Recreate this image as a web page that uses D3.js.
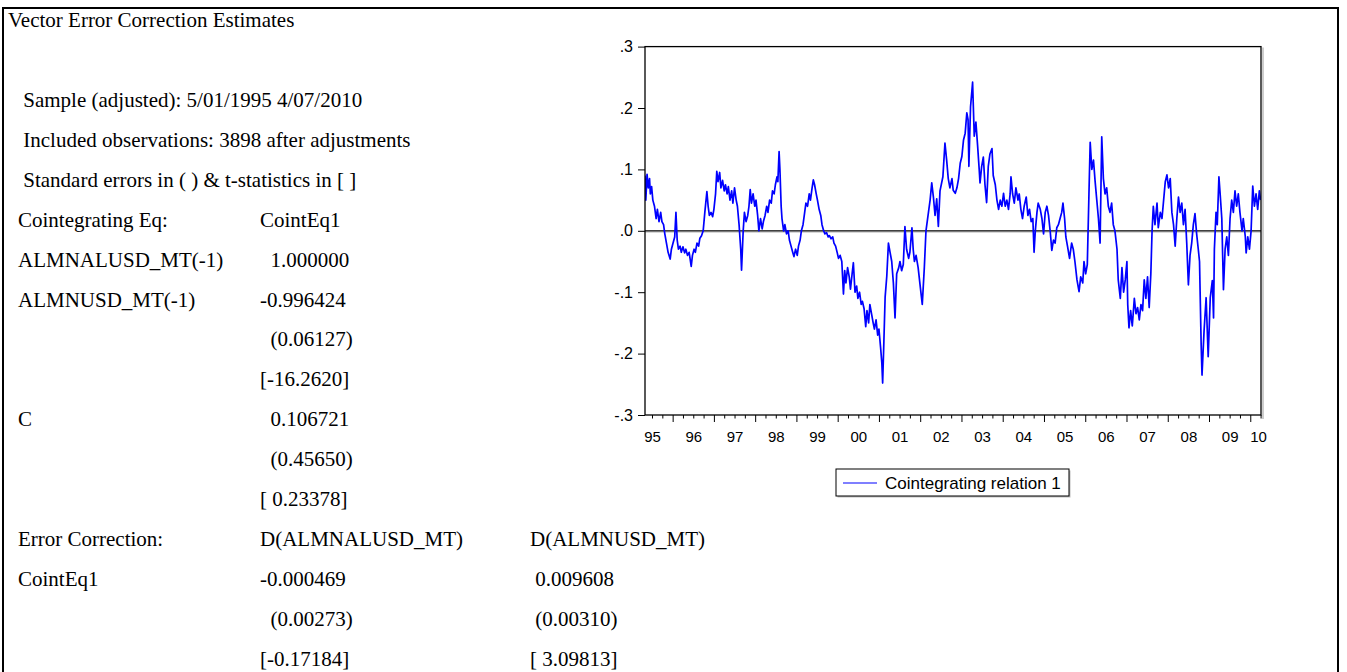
<!DOCTYPE html>
<html>
<head>
<meta charset="utf-8">
<title>Vector Error Correction Estimates</title>
<script src="https://cdn.jsdelivr.net/npm/d3@7"></script>
<style>
  body { margin: 0; background: #fff; }
  svg { display: block; }
  .vec-table text { font-family: "Liberation Serif", "Times New Roman", serif; font-size: 21px; fill: #000; white-space: pre; }
  .vec-chart text { font-family: "Liberation Sans", Arial, sans-serif; fill: #000; }
  .vec-chart .domain { display: none; }
</style>
</head>
<body>
<div class="vec-report"></div>
<script>

// ---- table text (EViews output) ----
var tableTitle = "Vector Error Correction Estimates";
var sampleNotes = [
  " Sample (adjusted): 5/01/1995 4/07/2010",
  " Included observations: 3898 after adjustments",
  " Standard errors in ( ) & t-statistics in [ ]"
];
var cointRows = [
  ["Cointegrating Eq:", "CointEq1"],
  ["ALMNALUSD_MT(-1)", "  1.000000"],
  ["ALMNUSD_MT(-1)", "-0.996424"],
  ["", "  (0.06127)"],
  ["", "[-16.2620]"],
  ["C", "  0.106721"],
  ["", "  (0.45650)"],
  ["", "[ 0.23378]"]
];
var ecmRows = [
  ["Error Correction:", "D(ALMNALUSD_MT)", "D(ALMNUSD_MT)"],
  ["CointEq1", "-0.000469", " 0.009608"],
  ["", "  (0.00273)", " (0.00310)"],
  ["", "[-0.17184]", "[ 3.09813]"]
];

// ---- cointegrating relation 1 ----
var relDates = [
  1995.33,1995.35,1995.38,1995.41,1995.44,1995.46,1995.49,1995.52,1995.56,1995.60,
  1995.63,1995.67,1995.71,1995.74,1995.78,1995.81,1995.85,1995.89,1995.94,1995.97,
  1996.01,1996.05,1996.08,1996.11,1996.14,1996.18,1996.21,1996.25,1996.29,1996.32,
  1996.36,1996.40,1996.45,1996.48,1996.52,1996.55,1996.59,1996.63,1996.66,1996.70,
  1996.74,1996.78,1996.83,1996.86,1996.89,1996.93,1996.97,1997.00,1997.04,1997.07,
  1997.10,1997.14,1997.17,1997.21,1997.25,1997.28,1997.32,1997.35,1997.39,1997.43,
  1997.46,1997.50,1997.54,1997.57,1997.61,1997.65,1997.67,1997.71,1997.74,1997.78,
  1997.82,1997.85,1997.88,1997.91,1997.95,1997.99,1998.02,1998.06,1998.09,1998.13,
  1998.17,1998.20,1998.24,1998.28,1998.31,1998.35,1998.39,1998.42,1998.46,1998.49,
  1998.53,1998.55,1998.58,1998.60,1998.63,1998.65,1998.69,1998.72,1998.76,1998.80,
  1998.83,1998.87,1998.91,1998.94,1998.98,1999.02,1999.05,1999.09,1999.12,1999.16,
  1999.20,1999.23,1999.27,1999.31,1999.34,1999.38,1999.41,1999.44,1999.48,1999.51,
  1999.55,1999.59,1999.62,1999.66,1999.69,1999.73,1999.77,1999.80,1999.84,1999.88,
  1999.91,1999.95,1999.99,2000.02,2000.06,2000.10,2000.14,2000.17,2000.20,2000.24,
  2000.28,2000.31,2000.35,2000.38,2000.42,2000.46,2000.49,2000.53,2000.57,2000.60,
  2000.64,2000.68,2000.71,2000.75,2000.78,2000.82,2000.86,2000.89,2000.93,2000.97,
  2001.00,2001.04,2001.07,2001.09,2001.12,2001.15,2001.19,2001.23,2001.27,2001.31,
  2001.35,2001.39,2001.43,2001.48,2001.51,2001.55,2001.59,2001.63,2001.67,2001.72,
  2001.75,2001.80,2001.83,2001.86,2001.90,2001.95,2002.00,2002.05,2002.10,2002.14,
  2002.20,2002.24,2002.28,2002.32,2002.36,2002.40,2002.44,2002.48,2002.55,2002.60,
  2002.64,2002.68,2002.72,2002.77,2002.80,2002.85,2002.89,2002.93,2002.97,2003.01,
  2003.05,2003.09,2003.13,2003.16,2003.18,2003.22,2003.27,2003.31,2003.35,2003.39,
  2003.43,2003.45,2003.49,2003.53,2003.57,2003.61,2003.65,2003.69,2003.74,2003.77,
  2003.82,2003.86,2003.90,2003.94,2003.98,2004.02,2004.06,2004.10,2004.14,2004.18,
  2004.20,2004.24,2004.28,2004.32,2004.37,2004.40,2004.44,2004.48,2004.52,2004.57,
  2004.61,2004.65,2004.69,2004.73,2004.76,2004.79,2004.83,2004.86,2004.91,2004.95,
  2004.99,2005.03,2005.07,2005.11,2005.15,2005.19,2005.23,2005.27,2005.31,2005.35,
  2005.39,2005.43,2005.46,2005.50,2005.53,2005.57,2005.62,2005.67,2005.71,2005.75,
  2005.80,2005.85,2005.89,2005.94,2005.97,2006.01,2006.05,2006.09,2006.12,2006.16,
  2006.20,2006.24,2006.28,2006.32,2006.36,2006.40,2006.44,2006.48,2006.52,2006.56,
  2006.60,2006.64,2006.68,2006.72,2006.77,2006.80,2006.85,2006.89,2006.93,2006.97,
  2007.01,2007.03,2007.06,2007.10,2007.14,2007.19,2007.23,2007.27,2007.31,2007.35,
  2007.39,2007.43,2007.47,2007.51,2007.55,2007.59,2007.62,2007.65,2007.69,2007.74,
  2007.77,2007.82,2007.86,2007.90,2007.94,2007.98,2008.02,2008.06,2008.10,2008.14,
  2008.18,2008.22,2008.26,2008.30,2008.34,2008.38,2008.42,2008.46,2008.50,2008.54,
  2008.58,2008.62,2008.66,2008.70,2008.74,2008.77,2008.81,2008.83,2008.88,2008.93,
  2008.98,2009.03,2009.08,2009.11,2009.13,2009.17,2009.20,2009.24,2009.27,2009.31,
  2009.35,2009.39,2009.43,2009.47,2009.51,2009.55,2009.59,2009.63,2009.67,2009.71,
  2009.75,2009.80,2009.83,2009.88,2009.90,2009.94,2009.98,2010.02,2010.06,2010.10,
  2010.14,2010.18,2010.22,2010.25
];
var relValues = [
  0.090,0.050,0.092,0.070,0.085,0.060,0.072,0.050,0.040,0.020,
  0.035,0.015,0.030,0.015,0.010,-0.005,-0.020,-0.035,-0.046,-0.030,
  -0.020,-0.010,0.030,-0.015,-0.030,-0.025,-0.035,-0.026,-0.036,-0.030,
  -0.040,-0.035,-0.058,-0.040,-0.030,-0.035,-0.020,-0.025,-0.012,-0.008,
  0.000,0.030,0.064,0.040,0.025,0.030,0.023,0.035,0.060,0.097,
  0.080,0.095,0.070,0.082,0.065,0.075,0.060,0.072,0.050,0.065,
  0.045,0.070,0.050,0.040,0.010,-0.030,-0.064,0.000,0.030,0.015,
  0.025,0.040,0.067,0.045,0.060,0.040,0.050,0.025,0.000,0.020,
  0.003,0.015,0.025,0.040,0.030,0.050,0.045,0.065,0.060,0.075,
  0.088,0.080,0.129,0.100,0.040,0.020,0.000,0.010,-0.005,0.000,
  -0.015,-0.025,-0.035,-0.042,-0.030,-0.040,-0.025,-0.015,0.000,0.010,
  0.030,0.045,0.040,0.060,0.050,0.070,0.083,0.075,0.060,0.050,
  0.035,0.025,0.010,0.000,-0.005,-0.003,-0.010,-0.008,-0.013,-0.010,
  -0.020,-0.025,-0.036,-0.045,-0.040,-0.050,-0.103,-0.065,-0.085,-0.060,
  -0.075,-0.095,-0.070,-0.052,-0.100,-0.090,-0.110,-0.100,-0.120,-0.115,
  -0.127,-0.156,-0.130,-0.150,-0.120,-0.135,-0.150,-0.160,-0.145,-0.170,
  -0.160,-0.190,-0.215,-0.248,-0.180,-0.108,-0.074,-0.020,-0.035,-0.050,
  -0.085,-0.142,-0.070,-0.060,-0.050,-0.065,-0.055,0.007,-0.030,-0.045,
  -0.035,0.005,-0.030,-0.050,-0.040,-0.060,-0.090,-0.120,-0.060,0.000,
  0.030,0.050,0.078,0.055,0.025,0.052,0.007,0.065,0.088,0.143,
  0.116,0.085,0.070,0.085,0.066,0.061,0.070,0.085,0.110,0.121,
  0.148,0.159,0.192,0.181,0.105,0.202,0.242,0.154,0.177,0.140,
  0.100,0.078,0.105,0.120,0.075,0.046,0.105,0.125,0.134,0.090,
  0.075,0.050,0.035,0.050,0.040,0.061,0.040,0.050,0.035,0.060,
  0.088,0.060,0.045,0.070,0.050,0.060,0.035,0.020,0.040,0.055,
  0.025,0.035,0.015,0.020,-0.035,0.000,0.030,0.045,0.035,0.020,
  -0.005,0.030,0.040,0.025,0.000,-0.032,-0.015,-0.020,0.005,0.010,
  0.020,0.030,0.045,0.020,-0.010,-0.025,-0.045,-0.020,-0.030,-0.050,
  -0.080,-0.099,-0.075,-0.085,-0.050,-0.070,-0.055,0.060,0.144,0.100,
  0.115,0.080,0.050,0.020,-0.020,0.153,0.085,0.060,0.070,0.040,
  0.030,0.045,0.010,0.000,-0.030,-0.080,-0.110,-0.060,-0.100,-0.080,
  -0.050,-0.120,-0.158,-0.130,-0.155,-0.110,-0.135,-0.125,-0.145,-0.120,
  -0.130,-0.080,-0.110,-0.075,-0.125,-0.070,0.000,0.040,0.010,0.045,
  0.005,0.030,0.020,0.050,0.080,0.091,0.070,0.085,0.030,0.010,
  -0.025,0.020,0.055,0.030,0.045,0.010,0.035,-0.020,-0.088,-0.040,
  -0.020,0.010,0.028,-0.005,-0.030,-0.050,-0.186,-0.235,-0.163,-0.109,
  -0.205,-0.109,-0.081,-0.142,-0.030,0.030,0.010,0.088,0.060,0.020,
  -0.096,-0.030,-0.010,-0.040,0.020,0.050,0.030,0.065,0.040,0.060,
  0.030,0.000,0.020,-0.010,-0.036,-0.010,-0.030,0.000,0.073,0.040,
  0.060,0.035,0.065,0.050
];

var yTickValues = [-0.3, -0.2, -0.1, 0.0, 0.1, 0.2, 0.3];
var yearLabels = ["95","96","97","98","99","00","01","02","03","04","05","06","07","08","09","10"];
var sampleRange = [1995.33, 2010.26];   // 5/01/1995 .. 4/07/2010
var seriesName = "Cointegrating relation 1";

/**
 * Constructor for the report (table + graph)
 */
function VecReport(){
    var self = this;
    self.init();
};

VecReport.prototype.init = function(){
    var self = this;
    self.width = 1347;
    self.height = 672;

    var div = d3.select(".vec-report");
    self.svg = div.append("svg")
        .attr("width", self.width)
        .attr("height", self.height);

    // outer frame round the whole output
    self.svg.append("rect")
        .attr("x", 3).attr("y", 8)
        .attr("width", 1335).attr("height", 700)
        .attr("fill", "none")
        .attr("stroke", "#000")
        .attr("stroke-width", 2);

    self.drawTable();
    self.drawChart();
};

VecReport.prototype.drawTable = function(){
    var self = this;
    var g = self.svg.append("g").attr("class", "vec-table");

    // baselines of the text rows
    var rowY = function(i){ return 107 + i * 39.9; };
    var colX = [18, 260, 530];

    g.append("text")
      .attr("x", 8).attr("y", 27)
      .text(tableTitle);

    g.selectAll(".note")
      .data(sampleNotes)
      .enter().append("text")
      .attr("class", "note")
      .attr("x", colX[0]).attr("y", function(d,i){ return rowY(i); })
      .text(function(d){ return d; });

    // both blocks share the same row grid
    var rows = cointRows.concat(ecmRows);
    rows.forEach(function(row, r){
      row.forEach(function(cell, c){
        if (!cell) return;
        g.append("text")
          .attr("x", colX[c])
          .attr("y", rowY(r + sampleNotes.length))
          .text(cell);
      });
    });
};

VecReport.prototype.drawChart = function(){
    var self = this;
    var plot = {left: 645, right: 1261, top: 46.6, bottom: 415};

    var g = self.svg.append("g").attr("class", "vec-chart");

    self.x = d3.scaleLinear()
      .domain(sampleRange)
      .range([plot.left, plot.right]);

    self.y = d3.scaleLinear()
      .domain([-0.3, 0.3])
      .range([plot.bottom, plot.top]);

    // y axis, EViews style labels (.3, -.1 ...)
    var fmt = function(d){
      var s = "." + Math.round(Math.abs(d) * 10);
      return d < 0 ? "-" + s : s;
    };
    var yAxis = g.append("g")
      .attr("transform", "translate(" + plot.left + ",0)")
      .call(d3.axisLeft(self.y).tickValues(yTickValues).tickSize(7).tickPadding(5).tickFormat(fmt));
    yAxis.selectAll("text").style("font-size", "16px");

    // x axis: year ticks long, quarter ticks short
    var years = d3.range(1996, 2011);
    var quarters = [];
    d3.range(1995, 2011).forEach(function(yr){
      [0.25, 0.5, 0.75].forEach(function(q){
        if (yr + q > sampleRange[0] && yr + q < sampleRange[1]) quarters.push(yr + q);
      });
    });
    var xBase = "translate(0," + plot.bottom + ")";
    g.append("g").attr("transform", xBase)
      .call(d3.axisBottom(self.x).tickValues(years).tickSize(7).tickFormat(""));
    g.append("g").attr("transform", xBase)
      .call(d3.axisBottom(self.x).tickValues(quarters).tickSize(3.5).tickFormat(""));

    // labels sit in the middle of each year (last one pulled inside)
    var labelPos = yearLabels.map(function(d, i){
      return Math.min(1995 + i + 0.5, sampleRange[1] - 0.07);
    });
    var xLab = g.append("g").attr("transform", xBase)
      .call(d3.axisBottom(self.x).tickValues(labelPos).tickSize(0).tickPadding(16)
        .tickFormat(function(d, i){ return yearLabels[i]; }));
    xLab.selectAll("text").style("font-size", "15px");
    g.selectAll(".tick line").attr("stroke", "#000");

    // zero line with its light shade
    g.append("line")
      .attr("x1", plot.left).attr("x2", plot.right)
      .attr("y1", self.y(0) + 1.5).attr("y2", self.y(0) + 1.5)
      .attr("stroke", "#cfcfcf").attr("stroke-width", 1);
    g.append("line")
      .attr("x1", plot.left).attr("x2", plot.right)
      .attr("y1", self.y(0)).attr("y2", self.y(0))
      .attr("stroke", "#000").attr("stroke-width", 1.2);

    // the series
    g.append("clipPath").attr("id", "plot-clip")
      .append("rect")
      .attr("x", plot.left).attr("y", plot.top)
      .attr("width", plot.right - plot.left).attr("height", plot.bottom - plot.top);

    var pts = relDates.map(function(d, i){ return [d, relValues[i]]; });
    var line = d3.line()
      .x(function(d){ return self.x(d[0]); })
      .y(function(d){ return self.y(d[1]); });

    g.append("path")
      .datum(pts)
      .attr("clip-path", "url(#plot-clip)")
      .attr("d", line)
      .attr("fill", "none")
      .attr("stroke", "#0000ff")
      .attr("stroke-width", 1.7)
      .attr("stroke-linejoin", "round");

    // frame (gray shade on the right like the original)
    g.append("line")
      .attr("x1", plot.right + 2).attr("x2", plot.right + 2)
      .attr("y1", plot.top + 1).attr("y2", plot.bottom + 4)
      .attr("stroke", "#bdbdbd").attr("stroke-width", 1.5);
    g.append("rect")
      .attr("x", plot.left).attr("y", plot.top)
      .attr("width", plot.right - plot.left).attr("height", plot.bottom - plot.top)
      .attr("fill", "none").attr("stroke", "#000").attr("stroke-width", 1.3);

    // legend
    var lg = g.append("g").attr("transform", "translate(836,469)");
    lg.append("rect")
      .attr("x", 1.5).attr("y", 1.5).attr("width", 233).attr("height", 27)
      .attr("fill", "#bdbdbd");
    lg.append("rect")
      .attr("width", 233).attr("height", 27)
      .attr("fill", "#fff").attr("stroke", "#000").attr("stroke-width", 1);
    lg.append("line")
      .attr("x1", 7).attr("x2", 41).attr("y1", 14).attr("y2", 14)
      .attr("stroke", "#0000ff").attr("stroke-width", 1.2);
    lg.append("text")
      .attr("x", 49).attr("y", 14).attr("dy", "0.36em")
      .style("font-size", "17px")
      .text(seriesName);
};

var report = new VecReport();
</script>
</body>
</html>
